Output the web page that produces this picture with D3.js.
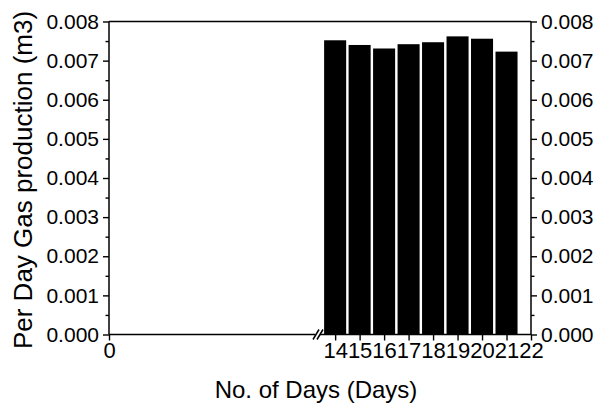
<!DOCTYPE html>
<html>
<head>
<meta charset="utf-8">
<script src="https://cdn.jsdelivr.net/npm/d3@7"></script>
<style>
  html, body { margin: 0; padding: 0; background: #fff; }
  svg { display: block; }
  text { font-family: "Liberation Sans", Arial, sans-serif; fill: #000; }
</style>
</head>
<body>
<svg id="chart" width="603" height="407"></svg>
<script>
// Daily gas production (m3) for days 14–21
const days = [14, 15, 16, 17, 18, 19, 20, 21];
const gasPerDay = [0.00752, 0.00740, 0.00731, 0.00742, 0.00747, 0.00762, 0.00756, 0.00723];
const yTicks = [0, 0.001, 0.002, 0.003, 0.004, 0.005, 0.006, 0.007, 0.008];
const xTicks = [0, 14, 15, 16, 17, 18, 19, 20, 21, 22];
const xBreak = 13.3;

const svg = d3.select("#chart");
const plotL = 109, plotR = 531, plotT = 21.5, plotB = 334.5;

// broken x axis: 0 … break, then days 14–22
const x = d3.scaleLinear().domain([0, xBreak, 22]).range([plotL, 318, plotR]);
const y = d3.scaleLinear().domain([0, 0.008]).range([plotB, plotT]);
const step = x(15) - x(14);
const barW = step * 0.9;

// bars
svg.append("g").selectAll("rect")
  .data(days)
  .join("rect")
  .attr("x", (d) => x(d) - barW / 2)
  .attr("width", barW)
  .attr("y", (d, i) => y(gasPerDay[i]))
  .attr("height", (d, i) => plotB - y(gasPerDay[i]))
  .attr("fill", "#000");

const fmt = d3.format(".3f");
const minor = d3.range(0.0005, 0.008, 0.001);

// left axis
const gl = svg.append("g").attr("transform", `translate(${plotL},0)`)
  .call(d3.axisLeft(y).tickValues(yTicks).tickFormat(fmt).tickSize(6).tickPadding(4));
gl.append("g").call(d3.axisLeft(y).tickValues(minor).tickFormat("").tickSize(3.5));

// right axis
const gr = svg.append("g").attr("transform", `translate(${plotR},0)`)
  .call(d3.axisRight(y).tickValues(yTicks).tickFormat(fmt).tickSize(6).tickPadding(4));
gr.append("g").call(d3.axisRight(y).tickValues(minor).tickFormat("").tickSize(3.5));

// bottom axis
const gb = svg.append("g").attr("transform", `translate(0,${plotB})`)
  .call(d3.axisBottom(x).tickValues(xTicks).tickFormat(d3.format("d")).tickSize(6).tickPadding(2));

[gl, gr, gb].forEach((g) => {
  g.selectAll(".domain").remove();
  g.selectAll("line").attr("stroke", "#000").attr("stroke-width", 1.4);
});
gl.selectAll("text").style("font-size", "21px");
gr.selectAll("text").style("font-size", "21px");
gb.selectAll("text").style("font-size", "22px");

// frame
const frame = svg.append("g").attr("stroke", "#000").attr("stroke-width", 1.5).attr("fill", "none");
frame.append("line").attr("x1", plotL).attr("x2", plotL).attr("y1", plotT).attr("y2", plotB);
frame.append("line").attr("x1", plotR).attr("x2", plotR).attr("y1", plotT).attr("y2", plotB);
frame.append("line").attr("x1", plotL).attr("x2", plotR).attr("y1", plotT).attr("y2", plotT);
const bx = x(xBreak);
frame.append("line").attr("x1", plotL).attr("x2", bx - 3).attr("y1", plotB).attr("y2", plotB);
frame.append("line").attr("x1", bx + 2).attr("x2", plotR).attr("y1", plotB).attr("y2", plotB);
// axis break marks
frame.append("line").attr("x1", bx - 5).attr("y1", plotB + 5).attr("x2", bx + 1).attr("y2", plotB - 5);
frame.append("line").attr("x1", bx - 1).attr("y1", plotB + 5).attr("x2", bx + 5).attr("y2", plotB - 5);

// axis titles
svg.append("text")
  .attr("x", 316).attr("y", 398)
  .attr("text-anchor", "middle")
  .style("font-size", "24px")
  .text("No. of Days (Days)");

svg.append("text")
  .attr("transform", "translate(32,180) rotate(-90)")
  .attr("text-anchor", "middle")
  .style("font-size", "26px")
  .text("Per Day Gas production (m3)");
</script>
</body>
</html>
